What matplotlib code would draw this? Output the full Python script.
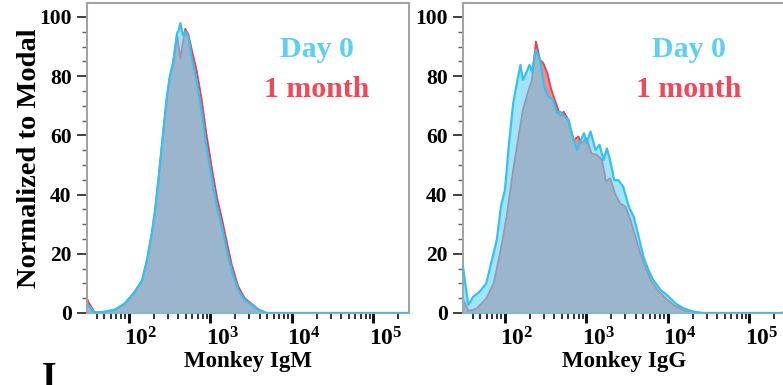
import numpy as np
import matplotlib
matplotlib.use("Agg")
import matplotlib.pyplot as plt
from matplotlib.ticker import FixedLocator, NullFormatter
import matplotlib.transforms as mtransforms

plt.rcParams['font.family'] = ['Liberation Serif', 'DejaVu Serif']
plt.rcParams['font.weight'] = 'bold'
plt.rcParams['mathtext.fontset'] = 'custom'
plt.rcParams['mathtext.rm'] = 'Liberation Serif:bold'
plt.rcParams['mathtext.bf'] = 'Liberation Serif:bold'
plt.rcParams['mathtext.it'] = 'Liberation Serif:bold:italic'

# ---------------- data (log10 intensity, % of mode) ----------------
igm_day0_log = [1.485, 1.50, 1.58, 1.71, 1.83, 1.95, 2.07, 2.16, 2.22, 2.28, 2.32, 2.36, 2.41,
                2.46, 2.50, 2.54, 2.59, 2.61, 2.63, 2.66, 2.69, 2.73, 2.77, 2.83, 2.89, 2.95,
                3.02, 3.08, 3.14, 3.20, 3.26, 3.34, 3.42, 3.51, 3.59, 3.69, 4.5, 5.44]
igm_day0_val = [3.0, 2.7, 0.0, 0.5, 1.2, 3.3, 7.2, 11.1, 17.9, 27.0, 34.8, 44.9, 58.4,
                72.0, 79.8, 84.4, 94.5, 95.5, 97.9, 94.0, 95.1, 93.4, 86.0, 78.7, 68.6, 56.2,
                44.9, 35.9, 29.2, 21.3, 14.5, 7.8, 4.4, 2.7, 1.0, 0.0, 0.0, 0.0]

igm_1mo_log = [1.485, 1.50, 1.58, 1.71, 1.83, 1.95, 2.07, 2.16, 2.22, 2.28, 2.32, 2.36, 2.41,
               2.46, 2.50, 2.54, 2.59, 2.63, 2.69, 2.73, 2.77, 2.83, 2.89, 2.95,
               3.02, 3.08, 3.14, 3.20, 3.26, 3.34, 3.42, 3.51, 3.59, 3.69, 4.5, 5.44]
igm_1mo_val = [5.0, 3.8, 0.2, 0.4, 1.0, 3.0, 6.8, 10.8, 17.5, 26.5, 34.5, 44.5, 58.0,
               71.5, 79.5, 84.0, 94.0, 86.0, 96.0, 94.0, 89.0, 82.0, 72.5, 60.5,
               48.5, 39.0, 32.0, 24.0, 16.5, 9.0, 5.0, 3.0, 1.2, 0.0, 0.0, 0.0]

igg_day0_log = [1.483, 1.49, 1.55, 1.61, 1.69, 1.77, 1.84, 1.90, 1.95, 2.00, 2.05, 2.10, 2.15,
                2.19, 2.22, 2.26, 2.30, 2.33, 2.38, 2.43, 2.48, 2.53, 2.59, 2.64, 2.68, 2.73,
                2.78, 2.82, 2.88, 2.93, 2.97, 3.00, 3.05, 3.11, 3.16, 3.21, 3.25, 3.29, 3.34,
                3.39, 3.45, 3.52, 3.58, 3.64, 3.70, 3.76, 3.82, 3.91, 4.01, 4.09, 4.19, 4.32,
                4.44, 5.44]
igg_day0_val = [16.0, 14.5, 2.7, 5.5, 7.2, 10.0, 17.9, 24.7, 35.9, 41.6, 57.3, 70.8, 78.2,
                83.8, 78.7, 81.0, 83.8, 81.5, 88.9, 85.5, 76.5, 73.1, 72.0, 67.5, 68.0, 66.4,
                65.2, 60.7, 55.1, 58.4, 60.7, 57.3, 61.3, 55.1, 56.8, 51.7, 55.6, 51.7, 44.9,
                44.9, 42.7, 35.9, 32.5, 25.8, 19.0, 14.5, 11.1, 7.8, 5.5, 3.3, 1.6, 0.4,
                0.0, 0.0]

igg_1mo_log = [1.483, 1.49, 1.55, 1.65, 1.77, 1.86, 1.94, 2.02, 2.10, 2.16, 2.22, 2.29, 2.33,
               2.38, 2.43, 2.47, 2.52, 2.57, 2.64, 2.68, 2.72, 2.78, 2.84, 2.90, 2.94, 3.00,
               3.06, 3.13, 3.19, 3.24, 3.29, 3.35, 3.41, 3.48, 3.54, 3.60, 3.66, 3.72, 3.79,
               3.87, 3.97, 4.07, 4.19, 4.32, 5.40, 5.44]
igg_1mo_val = [5.0, 4.4, 0.7, 1.4, 4.9, 10.0, 20.2, 32.5, 48.3, 58.4, 68.6, 75.3, 78.7,
               91.7, 85.5, 84.4, 81.0, 75.3, 69.8, 66.4, 68.0, 65.2, 58.4, 59.6, 57.3, 59.0,
               53.9, 53.4, 51.7, 44.4, 45.5, 40.4, 37.1, 35.9, 31.4, 25.8, 20.2, 15.6, 11.1,
               7.8, 5.0, 2.7, 1.0, 0.0, 0.0, 0.8]

panels = [
    ("Monkey IgM", igm_day0_log, igm_day0_val, igm_1mo_log, igm_1mo_val),
    ("Monkey IgG", igg_day0_log, igg_day0_val, igg_1mo_log, igg_1mo_val),
]
legend_labels = ["Day 0", "1 month"]
y_major = [0, 20, 40, 60, 80, 100]
x_major_exp = [2, 3, 4, 5]

# ---------------- styling ----------------
CYAN_FILL = '#61d2f3'
CYAN_LINE = '#33c2f0'
RED_FILL = '#f28a92'
RED_LINE = '#e8404e'
CYAN_TEXT = '#5ccff5'
RED_TEXT = '#ef4858'
FRAME = '#a3a3a3'

W, H = 783, 385
fig = plt.figure(figsize=(W / 100, H / 100), dpi=100)

ax_rects = [(87, 3, 322, 310), (463, 3, 322, 310)]
legend_cx = [317, 689]

for i, ((xlabel, d0l, d0v, m1l, m1v), (px, py, pw, ph)) in enumerate(zip(panels, ax_rects)):
    ax = fig.add_axes([px / W, 1 - (py + ph) / H, pw / W, ph / H])
    x0 = 10 ** np.array(d0l)
    x1 = 10 ** np.array(m1l)
    ax.fill_between(x1, 0, m1v, color=RED_FILL, lw=0, zorder=1)
    ax.plot(x1, m1v, color=RED_LINE, lw=1.3, zorder=2)
    ax.fill_between(x0, 0, d0v, color=CYAN_FILL, alpha=0.6, lw=0, zorder=3)
    ax.plot(x0, d0v, color=CYAN_LINE, lw=1.6, zorder=4)

    ax.set_xscale('log')
    ax.set_xlim(10 ** 1.485, 10 ** 5.436)
    ax.set_ylim(0, 104.7)

    for s in ax.spines.values():
        s.set_color(FRAME)
        s.set_linewidth(1.5)

    ax.set_yticks(y_major)
    ax.set_yticklabels([str(v) for v in y_major], fontsize=15.5, fontweight='bold')
    ax.yaxis.set_minor_locator(FixedLocator(np.arange(0, 101, 5)))
    ax.tick_params(axis='y', which='major', direction='out', length=7, width=1.4,
                   color='#404040', pad=4)
    ax.tick_params(axis='y', which='minor', direction='out', length=3.5, width=1.0,
                   color='#606060')

    xt = [10.0 ** e for e in x_major_exp]
    ax.set_xticks(xt)
    ax.set_xticklabels([r'$10^{%d}$' % e for e in x_major_exp], fontsize=17)
    minors = []
    for dec in range(1, 6):
        for m in range(2, 10):
            minors.append(m * 10.0 ** dec)
    ax.xaxis.set_minor_locator(FixedLocator(minors))
    ax.xaxis.set_minor_formatter(NullFormatter())
    ax.tick_params(axis='x', which='major', direction='out', length=7, width=2.2,
                   color='#111111', pad=3)
    ax.tick_params(axis='x', which='minor', direction='out', length=4, width=1.3,
                   color='#222222')
    off = mtransforms.ScaledTranslation(12 / 100, 0, fig.dpi_scale_trans)
    for lab in ax.get_xticklabels():
        lab.set_transform(lab.get_transform() + off)

    ax.set_xlabel(xlabel, fontsize=16.5, fontweight='bold', labelpad=1)
    if i == 0:
        ax.set_ylabel("Normalized to Modal", fontsize=20.5, fontweight='bold', labelpad=-2)

    fig.text(legend_cx[i] / W, 1 - 57 / H, legend_labels[0], color=CYAN_TEXT,
             fontsize=21.5, fontweight='bold', ha='center', va='baseline')
    fig.text(legend_cx[i] / W, 1 - 97 / H, legend_labels[1], color=RED_TEXT,
             fontsize=21.5, fontweight='bold', ha='center', va='baseline')

fig.text(42 / W, -3 / H, "I", fontsize=27, fontweight='bold', ha='left', va='baseline')

fig.savefig("out.png", dpi=100)
